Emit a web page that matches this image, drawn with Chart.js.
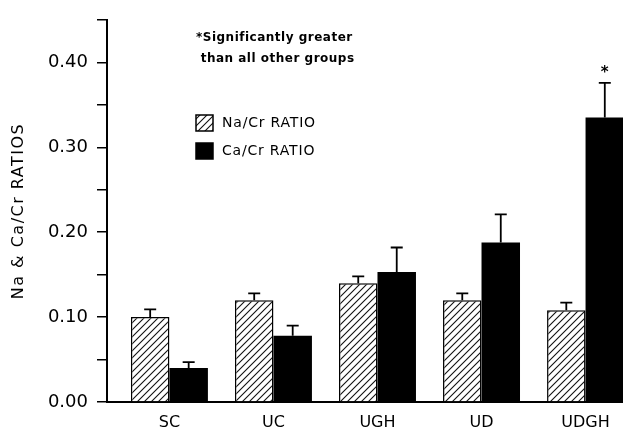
<!DOCTYPE html>
<html>
<head>
<meta charset="utf-8">
<script src="https://cdn.jsdelivr.net/npm/chart.js@4.4.0/dist/chart.umd.min.js"></script>
<style>
  html, body { margin: 0; padding: 0; background: #fff; }
</style>
</head>
<body>
<canvas id="chart" width="623" height="430"></canvas>
<script>
// Na/Cr and Ca/Cr ratios per group, with +SE error bars
const groups = ['SC', 'UC', 'UGH', 'UD', 'UDGH'];
const naCr = [0.100, 0.120, 0.140, 0.120, 0.108];
const naCrErr = [0.009, 0.008, 0.008, 0.008, 0.009];
const caCr = [0.040, 0.078, 0.153, 0.188, 0.335];
const caCrErr = [0.007, 0.012, 0.029, 0.033, 0.041];
const caSignificant = [false, false, false, false, true];
const yTickValues = [0, 0.05, 0.10, 0.15, 0.20, 0.25, 0.30, 0.35, 0.40, 0.45];
const yTickLabels = ['0.00', '', '0.10', '', '0.20', '', '0.30', '', '0.40', ''];
const yTitle = 'Na & Ca/Cr RATIOS';
const noteLines = ['*Significantly greater', ' than all other groups'];

const FONT = "'DejaVu Sans', sans-serif";
const canvas = document.getElementById('chart');
const ctx = canvas.getContext('2d');

function hatchPattern() {
  const size = 7;
  const c = document.createElement('canvas');
  c.width = size;
  c.height = size;
  const g = c.getContext('2d');
  g.fillStyle = '#fff';
  g.fillRect(0, 0, size, size);
  g.strokeStyle = '#111';
  g.lineWidth = 1.1;
  g.beginPath();
  g.moveTo(-1, size + 1); g.lineTo(size + 1, -1);
  g.moveTo(-1, 1); g.lineTo(1, -1);
  g.moveTo(size - 1, size + 1); g.lineTo(size + 1, size - 1);
  g.stroke();
  return ctx.createPattern(c, 'repeat');
}
const hatch = hatchPattern();

// upward-only error bars plus the significance star
const errorBars = {
  id: 'errorBars',
  afterDatasetsDraw(chart) {
    const y = chart.scales.y;
    const c = chart.ctx;
    c.save();
    c.strokeStyle = '#000';
    c.lineWidth = 1.8;
    chart.data.datasets.forEach((ds, di) => {
      const meta = chart.getDatasetMeta(di);
      meta.data.forEach((bar, i) => {
        const v = ds.data[i].y;
        const top = y.getPixelForValue(v + ds.errors[i]);
        const base = y.getPixelForValue(v);
        c.beginPath();
        c.moveTo(bar.x, base);
        c.lineTo(bar.x, top);
        c.moveTo(bar.x - 6, top);
        c.lineTo(bar.x + 6, top);
        c.stroke();
        if (ds.significant && ds.significant[i]) {
          c.fillStyle = '#000';
          c.font = 'bold 15px ' + FONT;
          c.textAlign = 'center';
          c.textBaseline = 'bottom';
          c.fillText('*', bar.x, top - 2);
        }
      });
    });
    c.restore();
  }
};

// y title, note text and legend boxes
const notes = {
  id: 'notes',
  afterDraw(chart) {
    const c = chart.ctx;
    const a = chart.chartArea;
    c.save();
    c.fillStyle = '#000';
    c.textBaseline = 'middle';

    c.save();
    c.translate(19, (a.top + a.bottom) / 2);
    c.rotate(-Math.PI / 2);
    c.textAlign = 'center';
    c.font = '16px ' + FONT;
    c.letterSpacing = '1.5px';
    c.fillText(yTitle, 0, 0);
    c.restore();

    c.textAlign = 'left';
    c.font = 'bold 12px ' + FONT;
    c.letterSpacing = '0.5px';
    c.fillText(noteLines[0], a.left + 89, 38);
    c.fillText(noteLines[1], a.left + 89, 59);

    c.font = '14px ' + FONT;
    c.letterSpacing = '0.8px';
    chart.data.datasets.forEach((ds, i) => {
      const y0 = 115 + i * 28;
      c.fillStyle = ds.backgroundColor;
      c.fillRect(a.left + 89, y0, 17, 16);
      c.strokeStyle = '#000';
      c.lineWidth = 1.5;
      c.strokeRect(a.left + 89, y0, 17, 16);
      c.fillStyle = '#000';
      c.fillText(ds.label, a.left + 115, y0 + 8);
    });
    c.restore();
  }
};

new Chart(ctx, {
  type: 'bar',
  data: {
    datasets: [
      {
        label: 'Na/Cr RATIO',
        data: naCr.map((v, i) => ({ x: i, y: v })),
        errors: naCrErr,
        backgroundColor: hatch,
        borderColor: '#000',
        borderWidth: 1.5,
      },
      {
        label: 'Ca/Cr RATIO',
        data: caCr.map((v, i) => ({ x: i, y: v })),
        errors: caCrErr,
        significant: caSignificant,
        backgroundColor: '#000',
        borderColor: '#000',
        borderWidth: 0,
      },
    ],
  },
  options: {
    responsive: false,
    animation: false,
    devicePixelRatio: 1,
    categoryPercentage: 0.74,
    barPercentage: 1.0,
    layout: { padding: { top: 20, right: 0, bottom: 0, left: 0 } },
    plugins: {
      legend: { display: false },
      tooltip: { enabled: false },
    },
    scales: {
      x: {
        type: 'linear',
        offset: false,
        min: -0.6,
        max: 4.36,
        afterBuildTicks: (s) => { s.ticks = groups.map((g, i) => ({ value: i })); },
        afterFit: (s) => { s.height = 28; },
        grid: { display: false, drawTicks: false, tickLength: 0 },
        border: { display: true, color: '#000', width: 2 },
        ticks: {
          color: '#000',
          padding: 11,
          font: { family: FONT, size: 16 },
          callback: (v) => groups[v],
        },
      },
      y: {
        min: 0,
        max: 0.45,
        afterBuildTicks: (s) => { s.ticks = yTickValues.map((v) => ({ value: v })); },
        afterFit: (s) => { s.width = 107; },
        grid: { drawOnChartArea: false, drawTicks: true, tickLength: 10, color: '#000', lineWidth: 1.5 },
        border: { display: true, color: '#000', width: 2 },
        ticks: {
          color: '#000',
          padding: 9,
          font: { family: FONT, size: 18 },
          callback: (v, i) => yTickLabels[i],
        },
      },
    },
  },
  plugins: [errorBars, notes],
});
</script>
</body>
</html>
